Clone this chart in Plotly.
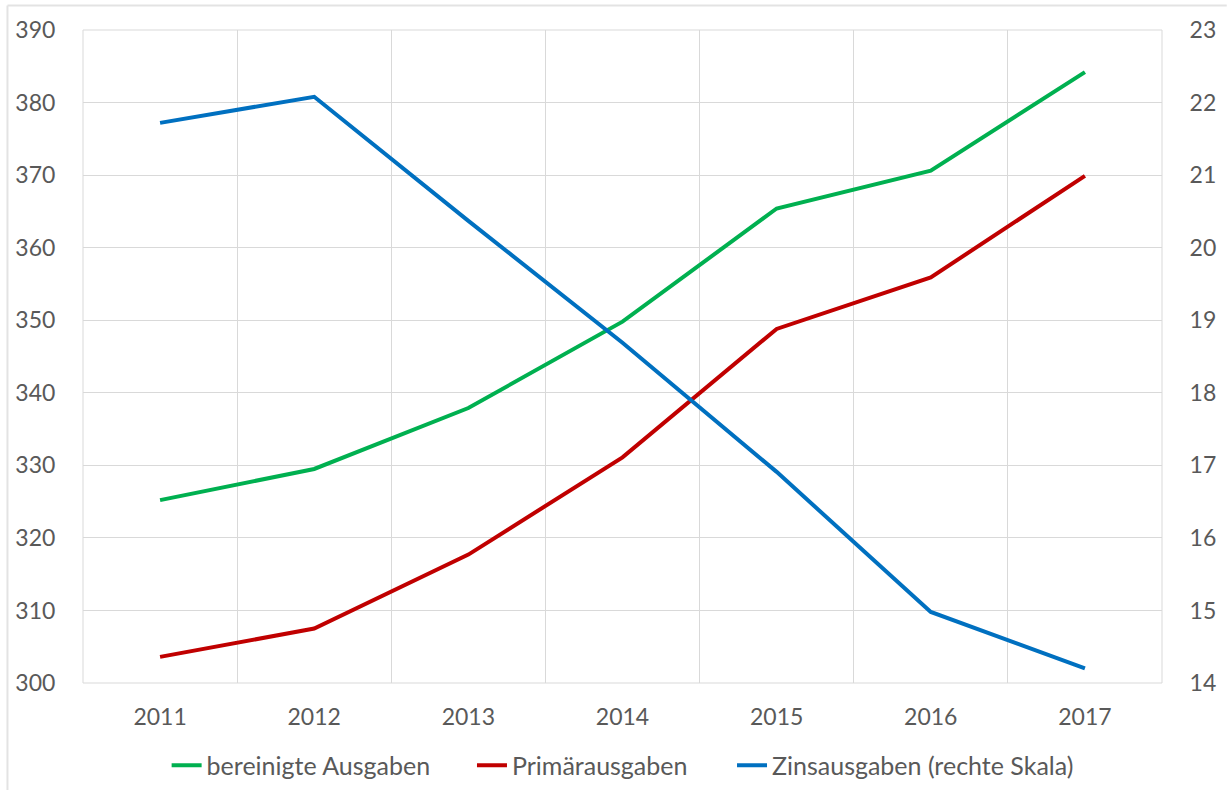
import plotly.graph_objects as go

years = [2011, 2012, 2013, 2014, 2015, 2016, 2017]
bereinigte = [325.2, 329.5, 337.9, 349.8, 365.4, 370.6, 384.2]
primaer = [303.6, 307.5, 317.7, 331.1, 348.8, 355.9, 369.9]
zins = [21.72, 22.08, 20.37, 18.69, 16.91, 14.98, 14.20]

left_ticks = list(range(300, 391, 10))
right_ticks = list(range(14, 24))

font_family = "Lato, 'Open Sans', sans-serif"
text_grey = "#595959"
grid_grey = "#D9D9D9"

fig = go.Figure()

fig.add_trace(go.Scatter(
    x=years, y=bereinigte, mode="lines", name="bereinigte Ausgaben",
    line=dict(color="#00B050", width=4), legend="legend"
))
fig.add_trace(go.Scatter(
    x=years, y=primaer, mode="lines", name="Primärausgaben",
    line=dict(color="#C00000", width=4), legend="legend2"
))
fig.add_trace(go.Scatter(
    x=years, y=zins, mode="lines", name="Zinsausgaben (rechte Skala)",
    line=dict(color="#0070C0", width=4), yaxis="y2", legend="legend3"
))

# plot area border (same colour as grid)
fig.add_shape(type="rect", xref="paper", yref="paper", x0=0, x1=1, y0=0, y1=1,
              line=dict(color=grid_grey, width=1), layer="below")

# light frame around the chart (top and left edges visible in the reference)
fig.add_shape(type="line", xref="paper", yref="paper",
              x0=-0.070, x1=1.06, y0=1.0375, y1=1.0375,
              line=dict(color="#E3E3E3", width=2))
fig.add_shape(type="line", xref="paper", yref="paper",
              x0=-0.070, x1=-0.070, y0=1.0375, y1=-0.17,
              line=dict(color="#E3E3E3", width=2))

legend_style = dict(
    orientation="h", xanchor="left", yref="container", y=0.031, yanchor="middle",
    font=dict(size=25, color=text_grey), itemwidth=30,
    bgcolor="rgba(0,0,0,0)", itemclick=False,
)

fig.update_layout(
    width=1228, height=790,
    margin=dict(l=83, r=61, t=30, b=107),
    paper_bgcolor="white", plot_bgcolor="white",
    font=dict(family=font_family, size=23, color=text_grey),
    showlegend=True,
    legend=dict(x=0.0775, **legend_style),
    legend2=dict(x=0.3605, **legend_style),
    legend3=dict(x=0.6015, **legend_style),
    xaxis=dict(
        range=[2010.5, 2017.5], tickvals=years, ticktext=[str(y) for y in years],
        showgrid=False, zeroline=False, showline=False,
        ticks="outside", ticklen=13, tickcolor="rgba(0,0,0,0)",
        minor=dict(tick0=2010.5, dtick=1, showgrid=True, gridcolor=grid_grey, gridwidth=1),
    ),
    yaxis=dict(
        range=[300, 390], tickvals=left_ticks,
        showgrid=True, gridcolor=grid_grey, gridwidth=1,
        zeroline=False, showline=False,
        ticks="outside", ticklen=22, tickcolor="rgba(0,0,0,0)",
    ),
    yaxis2=dict(
        range=[14, 23], tickvals=right_ticks, overlaying="y", side="right",
        showgrid=False, zeroline=False, showline=False,
        ticks="outside", ticklen=22, tickcolor="rgba(0,0,0,0)",
    ),
    hovermode=False,
)

fig.write_html(
    "out.html",
    config={"displayModeBar": False},
    post_script="document.body.style.margin='0';document.body.style.overflow='hidden';",
)
